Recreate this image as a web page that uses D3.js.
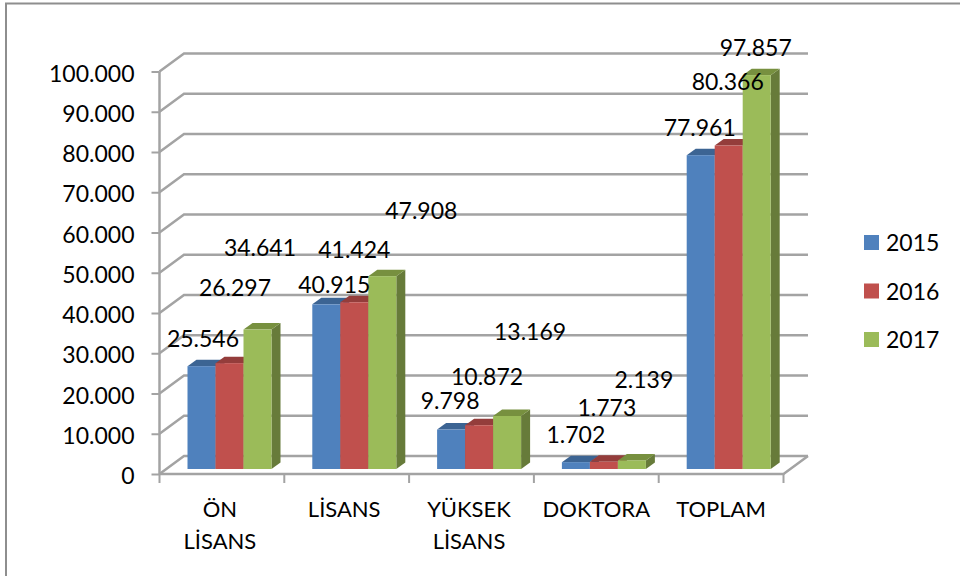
<!DOCTYPE html>
<html><head><meta charset="utf-8">
<script src="https://cdn.jsdelivr.net/npm/d3@7/dist/d3.min.js"></script>
<style>html,body{margin:0;padding:0;background:#fff}svg{display:block}text{font-family:Lato,"Open Sans",sans-serif;fill:#000}</style>
</head><body><svg id="c" width="960" height="576"></svg>
<script>
const categories = [["ÖN","LİSANS"],["LİSANS"],["YÜKSEK","LİSANS"],["DOKTORA"],["TOPLAM"]];
const years = ["2015","2016","2017"];
const values2015 = [25546,40915,9798,1702,77961];
const values2016 = [26297,41424,10872,1773,80366];
const values2017 = [34641,47908,13169,2139,97857];
const tickValues = [0,10000,20000,30000,40000,50000,60000,70000,80000,90000,100000];
const colors = ["#4f81bd","#c0504d","#9bbb59"];
const topColors = ["#3c6493","#943d3b","#77903f"];
const sideColors = ["#2f4f75","#753029","#677b3a"];
// placement of the value labels, relative to the top-centre of each bar
const labelShift = [
  [[1.5,-19],[8,-11],[-1,-21],[0,-19],[-1,-19]],
  [[5.5,-67],[0,-44],[8,-40],[3,-46],[-1,-56]],
  [[2.5,-74],[39,-57],[23,-76],[12,-72],[-1,-19]]
];
const categoryShift = [-2,-2.5,-2.5,0,0];

const svg = d3.select("#c");
const all = [values2015,values2016,values2017];
const fmt = d3.formatLocale({decimal:",",thousands:".",grouping:[3],currency:["",""]}).format(",d");

const x0 = d3.scaleBand().domain(d3.range(categories.length)).range([159.5,783.5]);
const y = d3.scaleLinear().domain([0,100000]).range([474,71.5]);
const depth = {x:24.5,y:-18}, bd = {x:9,y:-6.5}, barW = 28, lift = -5, GRID="#a3a3a3";

// frame: only the top and left edges show
svg.append("path").attr("d","M6,576V3.5H960").attr("fill","none")
  .attr("stroke","#8e8e8e").attr("stroke-width",2);

// walls and grid
const grid = svg.append("g").attr("fill","none").attr("stroke",GRID).attr("stroke-width",2.5);
tickValues.forEach(v=>{
  grid.append("polyline").attr("points",[
    [x0.range()[0],y(v)],[x0.range()[0]+depth.x,y(v)+depth.y],[x0.range()[1]+depth.x,y(v)+depth.y]
  ].join(" "));
});
grid.append("line").attr("x1",x0.range()[0]).attr("x2",x0.range()[0]).attr("y1",y(0)).attr("y2",y(100000));
grid.append("polyline").attr("points",[
  [x0.range()[0],y(0)],[x0.range()[1],y(0)],[x0.range()[1]+depth.x,y(0)+depth.y]
].join(" "));

// axes
const ya = svg.append("g").attr("transform",`translate(${x0.range()[0]},0)`)
  .call(d3.axisLeft(y).tickValues(tickValues).tickFormat(fmt).tickSize(8).tickPadding(17));
ya.select(".domain").remove();
ya.selectAll("line").attr("stroke",GRID).attr("stroke-width",2);
ya.selectAll("text").style("font-size","23px").attr("dy","0.42em");

const xa = svg.append("g").attr("transform",`translate(0,${y(0)})`)
  .call(d3.axisBottom(x0).tickSize(0).tickFormat(""));
xa.select(".domain").remove();
xa.selectAll(".tick").remove();
xa.selectAll("line.sep").data(d3.range(categories.length+1)).join("line").attr("class","sep")
  .attr("x1",i=>x0.range()[0]+i*x0.step()).attr("x2",i=>x0.range()[0]+i*x0.step())
  .attr("y1",0).attr("y2",9).attr("stroke",GRID).attr("stroke-width",2);

categories.forEach((lines,i)=>{
  const t = svg.append("text").attr("text-anchor","middle").style("font-size","22px");
  lines.forEach((s,k)=>t.append("tspan").attr("x",x0(i)+x0.bandwidth()/2+categoryShift[i]).attr("y",517+k*32).text(s));
});

// bars
const groupOff = 28;
const layer = svg.append("g");
categories.forEach((_,c)=>{
  all.forEach((vals,s)=>{
    const X = x0(c)+groupOff+s*barW, Y = y(vals[c])+lift, B = y(0)+lift, g = layer.append("g");
    g.append("polygon").attr("points",[[X+barW,Y],[X+barW+bd.x,Y+bd.y],[X+barW+bd.x,B+bd.y],[X+barW,B]].join(" ")).attr("fill",sideColors[s]);
    g.append("polygon").attr("points",[[X,Y],[X+bd.x,Y+bd.y],[X+barW+bd.x,Y+bd.y],[X+barW,Y]].join(" ")).attr("fill",topColors[s]);
    g.append("rect").attr("x",X).attr("y",Y).attr("width",barW).attr("height",B-Y).attr("fill",colors[s]);
  });
});

// value labels
categories.forEach((_,c)=>{
  all.forEach((vals,s)=>{
    const X = x0(c)+groupOff+s*barW+barW/2, Y = y(vals[c])+lift;
    svg.append("text").attr("text-anchor","middle").attr("x",X+labelShift[s][c][0]).attr("y",Y+labelShift[s][c][1])
      .style("font-size","23px").text(fmt(vals[c]));
  });
});

// legend
years.forEach((yr,i)=>{
  const ly = 242.5+i*48.5;
  svg.append("rect").attr("x",864).attr("y",ly-7.5).attr("width",15).attr("height",15).attr("fill",colors[i]);
  svg.append("text").attr("x",886).attr("y",ly+8.5).style("font-size","23px").text(yr);
});
</script></body></html>
